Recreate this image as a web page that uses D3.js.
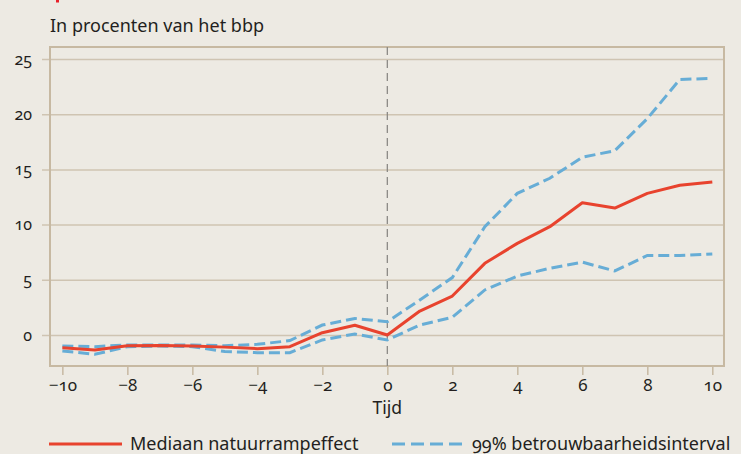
<!DOCTYPE html>
<html>
<head>
<meta charset="utf-8">
<script src="https://cdn.jsdelivr.net/npm/d3@7/dist/d3.min.js"></script>
<style>
  html, body { margin: 0; padding: 0; background: #EDEAE3; }
  svg { display: block; }
  text { font-family: "Noto Sans", "Open Sans", sans-serif; fill: #231F20; font-variant-numeric: oldstyle-nums; }
</style>
</head>
<body>
<svg id="chart" width="741" height="454"></svg>
<script>
const years = [-10,-9,-8,-7,-6,-5,-4,-3,-2,-1,0,1,2,3,4,5,6,7,8,9,10];
const median = [-1.15,-1.36,-0.97,-0.95,-1.0,-1.1,-1.24,-1.06,0.21,0.88,0.0,2.17,3.53,6.49,8.3,9.81,11.98,11.5,12.83,13.56,13.86];
const upper  = [-1.0,-1.06,-0.9,-0.9,-0.9,-0.97,-0.85,-0.51,0.9,1.5,1.2,3.17,5.2,9.8,12.83,14.2,16.1,16.7,19.6,23.15,23.25];
const lower  = [-1.45,-1.75,-1.06,-1.0,-1.06,-1.5,-1.6,-1.6,-0.45,0.09,-0.45,0.9,1.6,4.08,5.34,6.04,6.6,5.8,7.2,7.2,7.34];
const yTicks = [0,5,10,15,20,25];
const xTicks = [-10,-8,-6,-4,-2,0,2,4,6,8,10];
const title = "In procenten van het bbp";
const xLabel = "Tijd";
const legendLabels = ["Mediaan natuurrampeffect", "99% betrouwbaarheidsinterval"];

const svg = d3.select("#chart");
const pL = 50, pR = 724, pT = 47, pB = 366;
const x = d3.scaleLinear().domain([-10.38, 10.36]).range([pL, pR]);
const y = d3.scaleLinear().domain([-2.81, 26.09]).range([pB, pT]);

const frameColor = "#C7B9A2";
const gridColor = "#CFC4B2";
const red = "#E8432E";
const blue = "#67ADD6";

// small red mark at top-left (cut-off element)
svg.append("rect").attr("x", 56).attr("y", 0).attr("width", 3).attr("height", 2.5).attr("fill", "#E8202A");

// title
svg.append("text").attr("x", 50).attr("y", 32).attr("font-size", 18).text(title);

// gridlines
const span = pR - pL + 8;
const yAxis = d3.axisLeft(y).tickValues(yTicks).tickSize(span).tickFormat(d => String(d)).tickPadding(10);
const gy = svg.append("g").attr("transform", `translate(${pR},0)`).call(yAxis);
gy.select(".domain").remove();
gy.selectAll(".tick line").attr("stroke", gridColor).attr("stroke-width", 1.5);
gy.selectAll(".tick text").attr("font-size", 16).attr("fill", "#231F20");

// x axis
const xAxis = d3.axisBottom(x).tickValues(xTicks).tickSize(9).tickPadding(4).tickFormat(d => String(d).replace("-", "\u2212"));
const gx = svg.append("g").attr("transform", `translate(0,${pB})`).call(xAxis);
gx.select(".domain").remove();
gx.selectAll(".tick line").attr("stroke", frameColor).attr("stroke-width", 1.5);
gx.selectAll(".tick text").attr("font-size", 17).attr("fill", "#231F20");

// frame
svg.append("rect").attr("x", pL).attr("y", pT).attr("width", pR - pL).attr("height", pB - pT)
  .attr("fill", "none").attr("stroke", frameColor).attr("stroke-width", 2);

// vertical dashed zero line
svg.append("line").attr("x1", x(0)).attr("x2", x(0)).attr("y1", pT).attr("y2", pB)
  .attr("stroke", "#8C8A86").attr("stroke-width", 1.3).attr("stroke-dasharray", "8,5");

const line = d3.line().x((d, i) => x(years[i])).y(d => y(d));

svg.append("path").datum(upper).attr("d", line).attr("fill", "none").attr("stroke", blue)
  .attr("stroke-width", 3).attr("stroke-dasharray", "11,5");
svg.append("path").datum(lower).attr("d", line).attr("fill", "none").attr("stroke", blue)
  .attr("stroke-width", 3).attr("stroke-dasharray", "11,5");
svg.append("path").datum(median).attr("d", line).attr("fill", "none").attr("stroke", red)
  .attr("stroke-width", 3).attr("stroke-linejoin", "round");

// x label
svg.append("text").attr("x", x(0)).attr("y", 414).attr("text-anchor", "middle").attr("font-size", 17.5).text(xLabel);

// legend
svg.append("line").attr("x1", 49).attr("x2", 122).attr("y1", 444).attr("y2", 444).attr("stroke", red).attr("stroke-width", 3);
svg.append("text").attr("x", 130).attr("y", 450).attr("font-size", 18).text(legendLabels[0]);
svg.append("line").attr("x1", 392).attr("x2", 465).attr("y1", 444).attr("y2", 444).attr("stroke", blue).attr("stroke-width", 3).attr("stroke-dasharray", "13,6");
svg.append("text").attr("x", 472).attr("y", 450).attr("font-size", 18).text(legendLabels[1]);
</script>
</body>
</html>
